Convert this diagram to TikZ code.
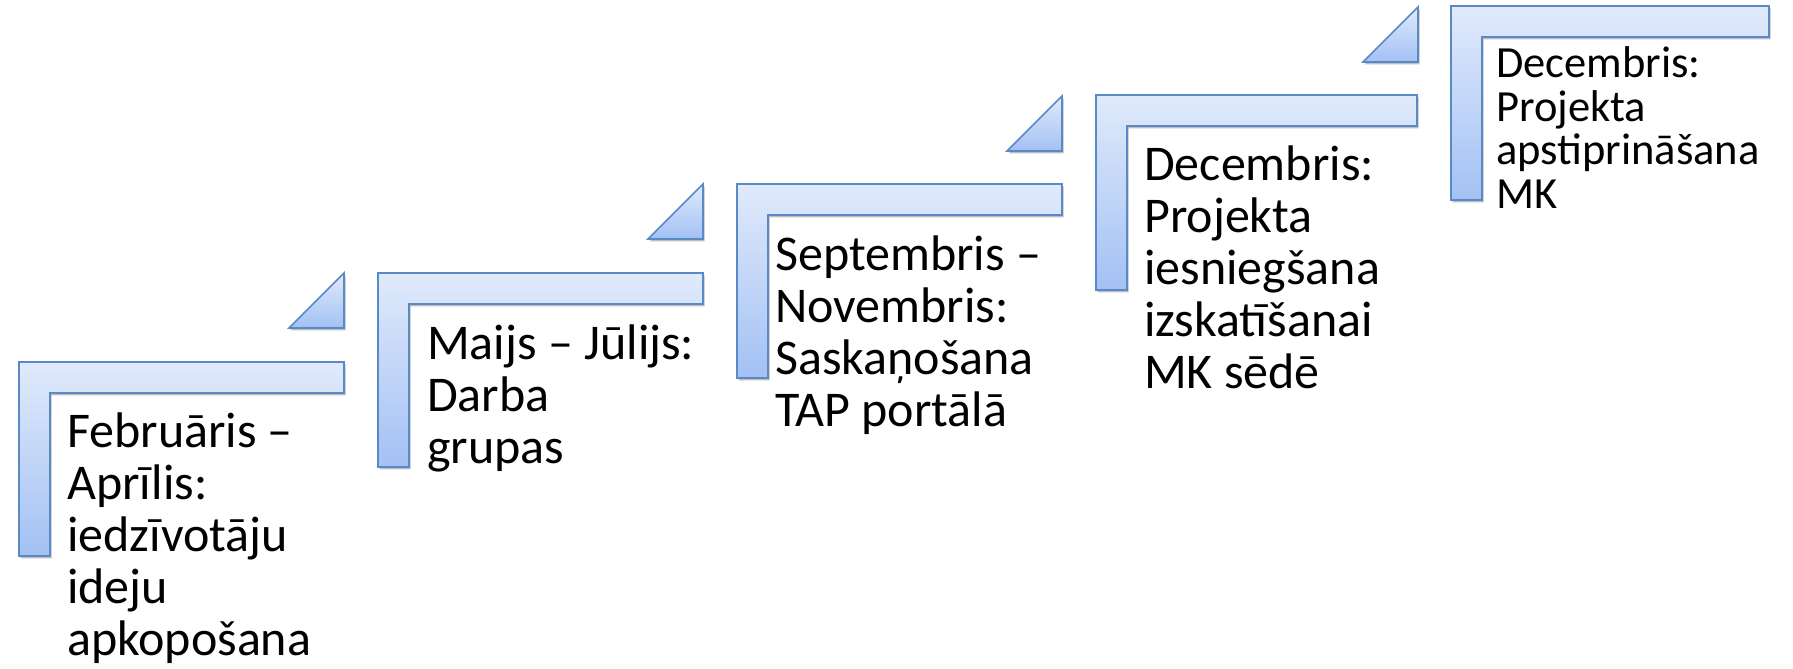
\documentclass[tikz,border=0pt]{standalone}
\usepackage{fontspec}
\setmainfont{Carlito}
\usetikzlibrary{shadows}
\definecolor{edgeblue}{HTML}{5A8AC6}
\definecolor{filltop}{HTML}{E0EAFB}
\definecolor{fillbot}{HTML}{A3C1F4}
\tikzset{
  stepshape/.style={draw=edgeblue, line width=1.6pt, line join=miter,
    top color=filltop, bottom color=fillbot,
    drop shadow={shadow xshift=1.5pt, shadow yshift=-2.5pt, opacity=0.25, fill=black}},
  lbl/.style={font=\fontsize{50}{52}\selectfont, align=left, inner sep=0pt, anchor=base west, text=black},
  lblsmall/.style={lbl, font=\fontsize{44.5}{43.5}\selectfont}
}
% #1 = left x, #2 = top y, #3 = right end x, #4 = bottom y (pixel coords, y down)
\newcommand\Lstep[4]{%
  \pgfmathsetmacro\ya{669-#2}\pgfmathsetmacro\yb{669-#2-31}%
  \pgfmathsetmacro\yc{669-#4}\pgfmathsetmacro\xb{#1+31}%
  \path[stepshape] (#1,\ya) -- (#3,\ya) -- (#3,\yb) -- (\xb,\yb) -- (\xb,\yc) -- (#1,\yc) -- cycle;}
% #1 = right x, #2 = bottom y
\newcommand\Tri[2]{%
  \pgfmathsetmacro\ya{669-#2}\pgfmathsetmacro\yb{669-#2+55}\pgfmathsetmacro\xa{#1-55}%
  \path[stepshape] (\xa,\ya) -- (#1,\ya) -- (#1,\yb) -- cycle;}
\begin{document}
\begin{tikzpicture}[x=1pt,y=1pt]
\useasboundingbox (0,0) rectangle (1793,669);
% steps
\Lstep{19}{362}{344}{556}
\Lstep{378}{273}{703}{467}
\Lstep{737}{184}{1062}{378}
\Lstep{1096}{95}{1417}{290}
\Lstep{1451}{6}{1769}{200}
% triangles
\Tri{344}{328}
\Tri{703}{239}
\Tri{1062}{151}
\Tri{1418}{62}
% labels (anchored at the baseline of the last line)
\node[lbl] (t1) at (67,{669-656}) {Februāris –\\Aprīlis:\\iedzīvotāju\\ideju\\apkopošana};
\node[lbl] (t2) at (427,{669-464}) {Maijs – Jūlijs:\\Darba\\grupas};
\node[lbl] (t3) at (775,{669-427}) {Septembris –\\Novembris:\\Saskaņošana\\TAP portālā};
\node[lbl] (t4) at (1144,{669-389}) {Decembris:\\Projekta\\iesniegšana\\izskatīšanai\\MK sēdē};
\node[lblsmall] (t5) at (1496,{669-208.5}) {Decembris:\\Projekta\\apstiprināšana\\MK};
\end{tikzpicture}
\end{document}
